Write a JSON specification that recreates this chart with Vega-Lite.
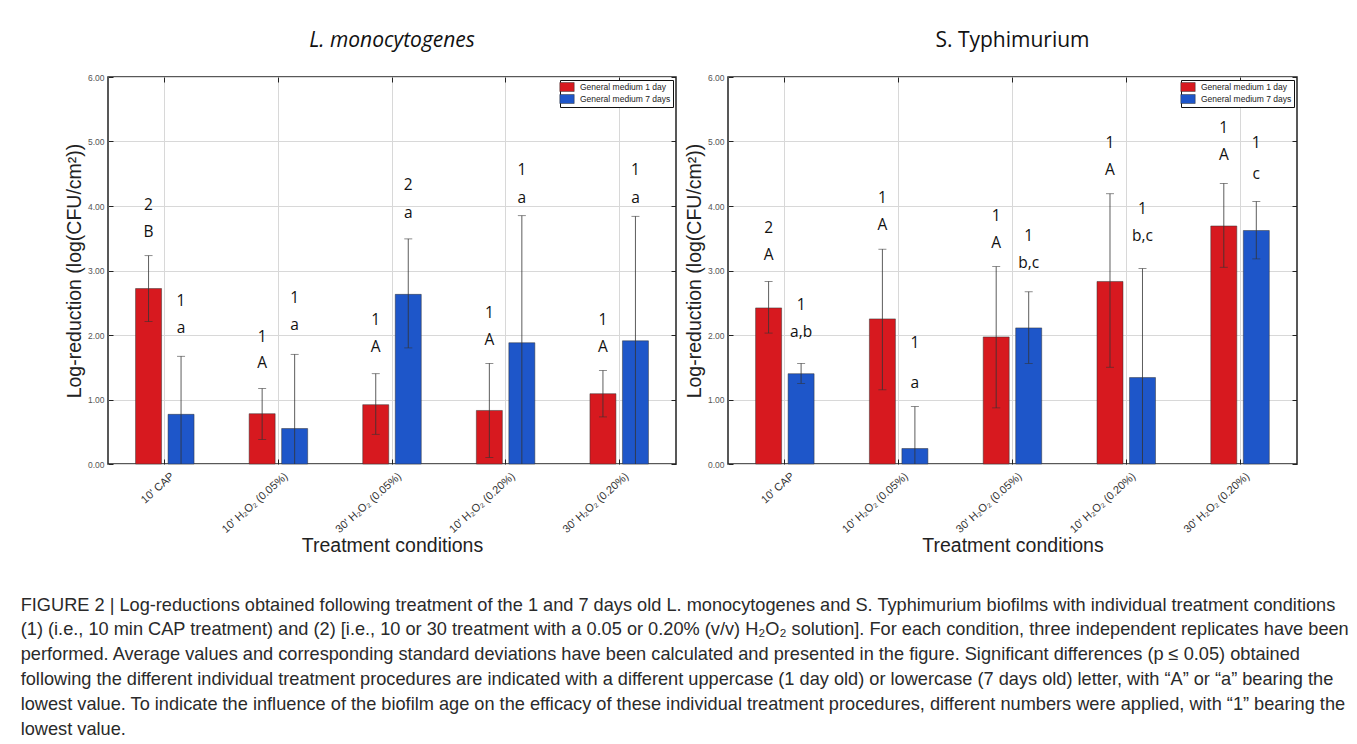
{
  "$schema": "https://vega.github.io/schema/vega-lite/v6.json",
  "padding": {"left": 20, "top": 29, "right": 5, "bottom": 5},
  "data": {"values": [
    {"org": "L", "cond": "10' CAP", "age": "General medium 1 day", "mean": 2.72, "lo": 2.21, "hi": 3.23, "num": "2", "num_y": 4.01, "let": "B", "let_y": 3.59},
    {"org": "L", "cond": "10' CAP", "age": "General medium 7 days", "mean": 0.77, "lo": -0.13, "hi": 1.67, "num": "1", "num_y": 2.52, "let": "a", "let_y": 2.11},
    {"org": "L", "cond": "10' H₂O₂ (0.05%)", "age": "General medium 1 day", "mean": 0.78, "lo": 0.38, "hi": 1.17, "num": "1", "num_y": 1.97, "let": "A", "let_y": 1.56},
    {"org": "L", "cond": "10' H₂O₂ (0.05%)", "age": "General medium 7 days", "mean": 0.55, "lo": -0.6, "hi": 1.7, "num": "1", "num_y": 2.57, "let": "a", "let_y": 2.16},
    {"org": "L", "cond": "30' H₂O₂ (0.05%)", "age": "General medium 1 day", "mean": 0.92, "lo": 0.46, "hi": 1.4, "num": "1", "num_y": 2.23, "let": "A", "let_y": 1.81},
    {"org": "L", "cond": "30' H₂O₂ (0.05%)", "age": "General medium 7 days", "mean": 2.63, "lo": 1.8, "hi": 3.49, "num": "2", "num_y": 4.32, "let": "a", "let_y": 3.89},
    {"org": "L", "cond": "10' H₂O₂ (0.20%)", "age": "General medium 1 day", "mean": 0.83, "lo": 0.1, "hi": 1.56, "num": "1", "num_y": 2.34, "let": "A", "let_y": 1.93},
    {"org": "L", "cond": "10' H₂O₂ (0.20%)", "age": "General medium 7 days", "mean": 1.88, "lo": -0.09, "hi": 3.85, "num": "1", "num_y": 4.56, "let": "a", "let_y": 4.12},
    {"org": "L", "cond": "30' H₂O₂ (0.20%)", "age": "General medium 1 day", "mean": 1.09, "lo": 0.73, "hi": 1.45, "num": "1", "num_y": 2.23, "let": "A", "let_y": 1.81},
    {"org": "L", "cond": "30' H₂O₂ (0.20%)", "age": "General medium 7 days", "mean": 1.91, "lo": -0.02, "hi": 3.84, "num": "1", "num_y": 4.56, "let": "a", "let_y": 4.12},
    {"org": "S", "cond": "10' CAP", "age": "General medium 1 day", "mean": 2.42, "lo": 2.03, "hi": 2.83, "num": "2", "num_y": 3.66, "let": "A", "let_y": 3.24},
    {"org": "S", "cond": "10' CAP", "age": "General medium 7 days", "mean": 1.4, "lo": 1.25, "hi": 1.56, "num": "1", "num_y": 2.47, "let": "a,b", "let_y": 2.04},
    {"org": "S", "cond": "10' H₂O₂ (0.05%)", "age": "General medium 1 day", "mean": 2.25, "lo": 1.15, "hi": 3.33, "num": "1", "num_y": 4.13, "let": "A", "let_y": 3.71},
    {"org": "S", "cond": "10' H₂O₂ (0.05%)", "age": "General medium 7 days", "mean": 0.24, "lo": -0.41, "hi": 0.89, "num": "1", "num_y": 1.87, "let": "a", "let_y": 1.25},
    {"org": "S", "cond": "30' H₂O₂ (0.05%)", "age": "General medium 1 day", "mean": 1.97, "lo": 0.87, "hi": 3.06, "num": "1", "num_y": 3.85, "let": "A", "let_y": 3.42},
    {"org": "S", "cond": "30' H₂O₂ (0.05%)", "age": "General medium 7 days", "mean": 2.11, "lo": 1.56, "hi": 2.67, "num": "1", "num_y": 3.54, "let": "b,c", "let_y": 3.11},
    {"org": "S", "cond": "10' H₂O₂ (0.20%)", "age": "General medium 1 day", "mean": 2.83, "lo": 1.5, "hi": 4.19, "num": "1", "num_y": 4.98, "let": "A", "let_y": 4.56},
    {"org": "S", "cond": "10' H₂O₂ (0.20%)", "age": "General medium 7 days", "mean": 1.34, "lo": -0.35, "hi": 3.03, "num": "1", "num_y": 3.96, "let": "b,c", "let_y": 3.54},
    {"org": "S", "cond": "30' H₂O₂ (0.20%)", "age": "General medium 1 day", "mean": 3.69, "lo": 3.05, "hi": 4.35, "num": "1", "num_y": 5.21, "let": "A", "let_y": 4.79},
    {"org": "S", "cond": "30' H₂O₂ (0.20%)", "age": "General medium 7 days", "mean": 3.62, "lo": 3.18, "hi": 4.07, "num": "1", "num_y": 4.97, "let": "c", "let_y": 4.49}
  ]},
  "title": {
    "text": [
      "FIGURE 2 | Log-reductions obtained following treatment of the 1 and 7 days old L. monocytogenes and S. Typhimurium biofilms with individual treatment conditions",
      "(1) (i.e., 10 min CAP treatment) and (2) [i.e., 10 or 30 treatment with a 0.05 or 0.20% (v/v) H₂O₂ solution]. For each condition, three independent replicates have been",
      "performed. Average values and corresponding standard deviations have been calculated and presented in the figure. Significant differences (p ≤ 0.05) obtained",
      "following the different individual treatment procedures are indicated with a different uppercase (1 day old) or lowercase (7 days old) letter, with “A” or “a” bearing the",
      "lowest value. To indicate the influence of the biofilm age on the efficacy of these individual treatment procedures, different numbers were applied, with “1” bearing the",
      "lowest value."
    ],
    "orient": "bottom",
    "anchor": "start",
    "dx": -43,
    "offset": 41,
    "font": "Liberation Sans",
    "fontSize": 18.2,
    "fontWeight": "normal",
    "lineHeight": 24.8,
    "color": "#2a2a2a"
  },
  "spacing": 5,
  "resolve": {"scale": {"color": "independent"}, "legend": {"color": "independent"}},
  "hconcat": [
    {
      "width": 568,
      "height": 387,
      "title": {"text": "L. monocytogenes", "fontStyle": "italic", "font": "Open Sans", "fontSize": 21, "fontWeight": "normal", "offset": 22, "color": "#111"},
      "transform": [{"filter": "datum.org === 'L'"}],
      "resolve": {"axis": {"x": "independent", "y": "independent"}},
      "encoding": {
        "x": {"field": "cond", "type": "nominal", "sort": ["10' CAP", "10' H₂O₂ (0.05%)", "30' H₂O₂ (0.05%)", "10' H₂O₂ (0.20%)", "30' H₂O₂ (0.20%)"],
              "scale": {"paddingInner": 0.485, "paddingOuter": 0.2425}, "axis": null},
        "xOffset": {"field": "age", "type": "nominal", "scale": {"paddingInner": 0.2}}
      },
      "layer": [
        {"mark": {"type": "bar", "stroke": "#333", "strokeWidth": 0.5},
         "encoding": {
           "x": {"field": "cond", "type": "nominal", "sort": ["10' CAP", "10' H₂O₂ (0.05%)", "30' H₂O₂ (0.05%)", "10' H₂O₂ (0.20%)", "30' H₂O₂ (0.20%)"],
                 "axis": {"orient": "bottom", "title": "Treatment conditions", "labelAngle": -42, "bandPosition": 0.5, "grid": true, "gridColor": "#d8d8d8", "tickSize": -5, "tickColor": "#222", "domain": false, "labelFontSize": 11, "labelColor": "#333", "labelPadding": 11, "labelOffset": 4, "titlePadding": 2}},
           "y": {"field": "mean", "type": "quantitative", "scale": {"domain": [0, 6]},
                 "axis": {"orient": "left", "title": "Log-reduction (log(CFU/cm²))", "values": [0, 1, 2, 3, 4, 5, 6], "format": ".2f", "grid": true, "gridColor": "#d8d8d8", "tickSize": -5, "tickColor": "#222", "domain": false, "labelFontSize": 8.5, "labelColor": "#555", "labelPadding": 9, "titlePadding": 3}},
           "color": {"field": "age", "type": "nominal", "scale": {"domain": ["General medium 1 day", "General medium 7 days"], "range": ["#d7191f", "#1e56c9"]},
                     "legend": {"title": null, "orient": "top-right", "offset": 3, "padding": 2, "strokeColor": "#111", "fillColor": "white", "labelFontSize": 8.5, "labelFont": "Liberation Sans", "labelColor": "#222", "symbolType": "M-1.6,-1H1.6V1H-1.6Z", "symbolSize": 81, "symbolStrokeColor": "#333", "symbolStrokeWidth": 0.5, "symbolOpacity": 1, "rowPadding": 0, "labelOffset": 8}}
         }},
        {"mark": {"type": "rule", "clip": true, "color": "#333", "strokeWidth": 0.8},
         "encoding": {"y": {"field": "lo", "type": "quantitative", "axis": null}, "y2": {"field": "hi"}}},
        {"mark": {"type": "tick", "clip": true, "color": "#333", "thickness": 0.8, "size": 8},
         "encoding": {"y": {"field": "hi", "type": "quantitative",
                            "axis": {"orient": "right", "title": null, "labels": false, "values": [0, 1, 2, 3, 4, 5, 6], "tickSize": -5, "tickColor": "#222", "domain": false, "grid": false}}}},
        {"mark": {"type": "tick", "clip": true, "color": "#333", "thickness": 0.8, "size": 8},
         "encoding": {
           "x": {"field": "cond", "type": "nominal", "sort": ["10' CAP", "10' H₂O₂ (0.05%)", "30' H₂O₂ (0.05%)", "10' H₂O₂ (0.20%)", "30' H₂O₂ (0.20%)"],
                 "axis": {"orient": "top", "title": null, "labels": false, "bandPosition": 0.5, "tickSize": -5, "tickColor": "#222", "domain": false, "grid": false}},
           "y": {"field": "lo", "type": "quantitative", "axis": null}}},
        {"mark": {"type": "text", "font": "Open Sans", "fontSize": 15.5, "baseline": "middle", "color": "#111"},
         "encoding": {"y": {"field": "num_y", "type": "quantitative", "axis": null}, "text": {"field": "num"}}},
        {"mark": {"type": "text", "font": "Open Sans", "fontSize": 15.5, "baseline": "middle", "color": "#111"},
         "encoding": {"y": {"field": "let_y", "type": "quantitative", "axis": null}, "text": {"field": "let"}}}
      ]
    },
    {
      "width": 569,
      "height": 387,
      "title": {"text": "S. Typhimurium", "font": "Open Sans", "fontSize": 21, "fontWeight": "normal", "offset": 22, "color": "#111"},
      "transform": [{"filter": "datum.org === 'S'"}],
      "resolve": {"axis": {"x": "independent", "y": "independent"}},
      "encoding": {
        "x": {"field": "cond", "type": "nominal", "sort": ["10' CAP", "10' H₂O₂ (0.05%)", "30' H₂O₂ (0.05%)", "10' H₂O₂ (0.20%)", "30' H₂O₂ (0.20%)"],
              "scale": {"paddingInner": 0.485, "paddingOuter": 0.2425}, "axis": null},
        "xOffset": {"field": "age", "type": "nominal", "scale": {"paddingInner": 0.2}}
      },
      "layer": [
        {"mark": {"type": "bar", "stroke": "#333", "strokeWidth": 0.5},
         "encoding": {
           "x": {"field": "cond", "type": "nominal", "sort": ["10' CAP", "10' H₂O₂ (0.05%)", "30' H₂O₂ (0.05%)", "10' H₂O₂ (0.20%)", "30' H₂O₂ (0.20%)"],
                 "axis": {"orient": "bottom", "title": "Treatment conditions", "labelAngle": -42, "bandPosition": 0.5, "grid": true, "gridColor": "#d8d8d8", "tickSize": -5, "tickColor": "#222", "domain": false, "labelFontSize": 11, "labelColor": "#333", "labelPadding": 11, "labelOffset": 4, "titlePadding": 2}},
           "y": {"field": "mean", "type": "quantitative", "scale": {"domain": [0, 6]},
                 "axis": {"orient": "left", "title": "Log-reduction (log(CFU/cm²))", "values": [0, 1, 2, 3, 4, 5, 6], "format": ".2f", "grid": true, "gridColor": "#d8d8d8", "tickSize": -5, "tickColor": "#222", "domain": false, "labelFontSize": 8.5, "labelColor": "#555", "labelPadding": 9, "titlePadding": 3}},
           "color": {"field": "age", "type": "nominal", "scale": {"domain": ["General medium 1 day", "General medium 7 days"], "range": ["#d7191f", "#1e56c9"]},
                     "legend": {"title": null, "orient": "top-right", "offset": 3, "padding": 2, "strokeColor": "#111", "fillColor": "white", "labelFontSize": 8.5, "labelFont": "Liberation Sans", "labelColor": "#222", "symbolType": "M-1.6,-1H1.6V1H-1.6Z", "symbolSize": 81, "symbolStrokeColor": "#333", "symbolStrokeWidth": 0.5, "symbolOpacity": 1, "rowPadding": 0, "labelOffset": 8}}
         }},
        {"mark": {"type": "rule", "clip": true, "color": "#333", "strokeWidth": 0.8},
         "encoding": {"y": {"field": "lo", "type": "quantitative", "axis": null}, "y2": {"field": "hi"}}},
        {"mark": {"type": "tick", "clip": true, "color": "#333", "thickness": 0.8, "size": 8},
         "encoding": {"y": {"field": "hi", "type": "quantitative",
                            "axis": {"orient": "right", "title": null, "labels": false, "values": [0, 1, 2, 3, 4, 5, 6], "tickSize": -5, "tickColor": "#222", "domain": false, "grid": false}}}},
        {"mark": {"type": "tick", "clip": true, "color": "#333", "thickness": 0.8, "size": 8},
         "encoding": {
           "x": {"field": "cond", "type": "nominal", "sort": ["10' CAP", "10' H₂O₂ (0.05%)", "30' H₂O₂ (0.05%)", "10' H₂O₂ (0.20%)", "30' H₂O₂ (0.20%)"],
                 "axis": {"orient": "top", "title": null, "labels": false, "bandPosition": 0.5, "tickSize": -5, "tickColor": "#222", "domain": false, "grid": false}},
           "y": {"field": "lo", "type": "quantitative", "axis": null}}},
        {"mark": {"type": "text", "font": "Open Sans", "fontSize": 15.5, "baseline": "middle", "color": "#111"},
         "encoding": {"y": {"field": "num_y", "type": "quantitative", "axis": null}, "text": {"field": "num"}}},
        {"mark": {"type": "text", "font": "Open Sans", "fontSize": 15.5, "baseline": "middle", "color": "#111"},
         "encoding": {"y": {"field": "let_y", "type": "quantitative", "axis": null}, "text": {"field": "let"}}}
      ]
    }
  ],
  "config": {
    "view": {"stroke": "#222", "strokeWidth": 1.5},
    "axis": {"labelFont": "Liberation Sans", "titleFont": "Liberation Sans", "titleFontSize": 19.5, "titleFontWeight": "normal", "titleColor": "#222"}
  }
}
